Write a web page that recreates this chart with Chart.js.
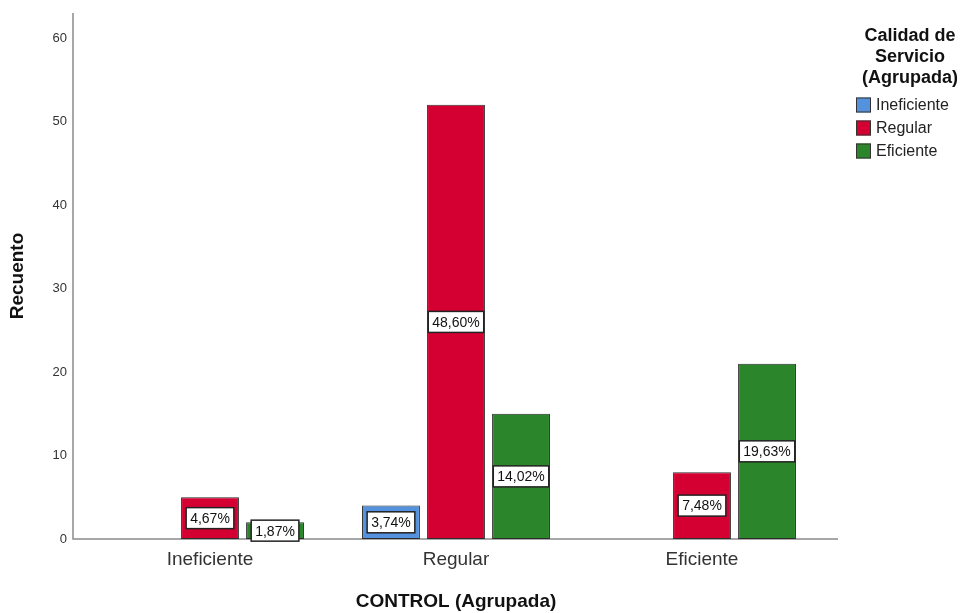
<!DOCTYPE html>
<html>
<head>
<meta charset="utf-8">
<script src="https://cdn.jsdelivr.net/npm/chart.js"></script>
<style>
  body { margin: 0; background: #fff; }
  #wrap { width: 962px; height: 613px; }
</style>
</head>
<body>
<div id="wrap"><canvas id="calidad-chart" width="962" height="613"></canvas></div>
<script>
// Recuento por CONTROL (Agrupada) y Calidad de Servicio (Agrupada)
var categorias = ['Ineficiente', 'Regular', 'Eficiente'];
var serieIneficiente = [0, 4, 0];
var serieRegular = [5, 52, 8];
var serieEficiente = [2, 15, 21];
var yTicks = [0, 10, 20, 30, 40, 50, 60];

var series = [
  { label: 'Ineficiente', data: serieIneficiente, color: '#5592dd' },
  { label: 'Regular', data: serieRegular, color: '#d50032' },
  { label: 'Eficiente', data: serieEficiente, color: '#2a852b' }
];

var total = 0;
series.forEach(function(s){
  s.data.forEach(function(v){ total += v; });
});

function pct(v){
  return (v / total * 100).toFixed(2).replace('.', ',') + '%';
}

// ejes: salen un poco mas alla del area de las barras
var ejesPlugin = {
  id: 'ejes',
  beforeDatasetsDraw: function(chart){
    var a = chart.chartArea;
    var ctx = chart.ctx;
    ctx.save();
    ctx.strokeStyle = '#8a8a8a';
    ctx.lineWidth = 1.5;
    ctx.beginPath();
    ctx.moveTo(a.left - 14, a.top);
    ctx.lineTo(a.left - 14, a.bottom);
    ctx.lineTo(a.right + 13, a.bottom);
    ctx.stroke();
    ctx.restore();
  }
};

// cajas con el porcentaje en el centro de cada barra
var etiquetasPlugin = {
  id: 'etiquetas',
  afterDatasetsDraw: function(chart){
    var ctx = chart.ctx;
    ctx.save();
    ctx.font = '14px "Liberation Sans", Arial, sans-serif';
    ctx.textAlign = 'center';
    ctx.textBaseline = 'middle';
    chart.data.datasets.forEach(function(ds, i){
      var meta = chart.getDatasetMeta(i);
      meta.data.forEach(function(bar, j){
        var v = ds.data[j];
        if (!v) return;
        var txt = pct(v);
        var w = ctx.measureText(txt).width + 8;
        var h = 21;
        var cy = (bar.y + bar.base) / 2;
        ctx.fillStyle = '#fff';
        ctx.fillRect(bar.x - w / 2, cy - h / 2, w, h);
        ctx.lineWidth = 1.5;
        ctx.strokeStyle = '#222';
        ctx.strokeRect(bar.x - w / 2, cy - h / 2, w, h);
        ctx.fillStyle = '#111';
        ctx.fillText(txt, bar.x, cy + 1);
      });
    });
    ctx.restore();
  }
};

// leyenda a la derecha con titulo en tres lineas
var leyendaPlugin = {
  id: 'leyenda',
  afterDraw: function(chart){
    var ctx = chart.ctx;
    ctx.save();
    ctx.fillStyle = '#111';
    ctx.textAlign = 'center';
    ctx.textBaseline = 'alphabetic';
    ctx.font = 'bold 18px "Liberation Sans", Arial, sans-serif';
    ['Calidad de', 'Servicio', '(Agrupada)'].forEach(function(line, k){
      ctx.fillText(line, 910, 41 + k * 21);
    });
    ctx.textAlign = 'left';
    ctx.textBaseline = 'middle';
    ctx.font = '16px "Liberation Sans", Arial, sans-serif';
    chart.data.datasets.forEach(function(ds, i){
      var cy = 105 + i * 23;
      ctx.fillStyle = ds.backgroundColor;
      ctx.fillRect(856, cy - 7.5, 15, 15);
      ctx.lineWidth = 1;
      ctx.strokeStyle = '#333';
      ctx.strokeRect(856.5, cy - 7, 14, 14);
      ctx.fillStyle = '#222';
      ctx.fillText(ds.label, 876, cy + 1);
    });
    ctx.restore();
  }
};

var ctx = document.getElementById('calidad-chart').getContext('2d');
var chart = new Chart(ctx, {
  type: 'bar',
  data: {
    labels: categorias,
    datasets: series.map(function(s){
      return {
        label: s.label,
        data: s.data,
        backgroundColor: s.color,
        borderColor: '#2b2b2b',
        borderWidth: 1,
        borderSkipped: false,
        categoryPercentage: 0.793,
        barPercentage: 0.89
      };
    })
  },
  options: {
    responsive: false,
    animation: false,
    layout: { padding: { top: 13, right: 137, left: 0, bottom: 0 } },
    plugins: {
      legend: { display: false },
      tooltip: { enabled: false }
    },
    scales: {
      x: {
        grid: { display: false, drawTicks: false },
        border: { display: false },
        ticks: {
          padding: 9,
          color: '#333',
          font: { family: '"Liberation Sans", Arial, sans-serif', size: 19 }
        },
        title: {
          display: true,
          text: 'CONTROL (Agrupada)',
          color: '#111',
          padding: { top: 0, bottom: 0 },
          font: { family: '"Liberation Sans", Arial, sans-serif', size: 19, weight: 'bold' }
        },
        afterFit: function(scale){ scale.height = 74; }
      },
      y: {
        min: 0,
        max: 63,
        grid: { display: false, drawTicks: false },
        border: { display: false },
        ticks: {
          stepSize: 10,
          padding: 20,
          color: '#333',
          font: { family: '"Liberation Sans", Arial, sans-serif', size: 13 }
        },
        afterBuildTicks: function(scale){
          scale.ticks = yTicks.map(function(v){ return { value: v }; });
        },
        title: {
          display: true,
          text: 'Recuento',
          color: '#111',
          padding: { top: 6, bottom: 0 },
          font: { family: '"Liberation Sans", Arial, sans-serif', size: 19, weight: 'bold' }
        },
        afterFit: function(scale){
          scale.width = 87;
          scale.paddingTop = 0;
          scale.paddingBottom = 0;
        }
      }
    }
  },
  plugins: [ejesPlugin, etiquetasPlugin, leyendaPlugin]
});
</script>
</body>
</html>
